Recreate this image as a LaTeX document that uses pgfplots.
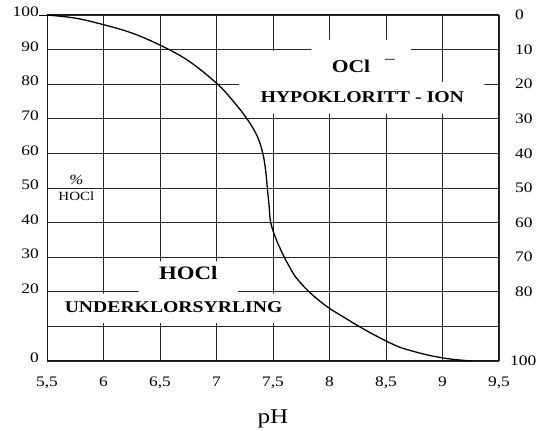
\documentclass[border=0pt]{standalone}
\usepackage{fontspec}
\setmainfont{Liberation Serif}[FakeStretch=1.2]
\usepackage{pgfplots}
\pgfplotsset{compat=1.18}
\begin{document}
\begin{tikzpicture}
\useasboundingbox (0,0) rectangle (539pt,431pt);
\begin{axis}[
  at={(47pt,70pt)}, anchor=south west,
  scale only axis, width=452pt, height=346pt,
  xmin=5.5, xmax=9.5, ymin=0, ymax=100,
  xtick={5.5,6,6.5,7,7.5,8,8.5,9,9.5},
  xticklabels={{5,5},6,{6,5},7,{7,5},8,{8,5},9,{9,5}},
  ytick={0,10,...,100},
  yticklabels={0,,20,30,40,50,60,70,80,90,100},
  extra y ticks={100},
  extra y tick labels={},
  extra y tick style={tick align=outside, tick pos=left, major tick length=8pt, major tick style={black, line width=0.8pt}},
  grid=major,
  major grid style={black!85, line width=0.9pt},
  major tick length=0pt,
  axis line style={black!90, line width=1pt},
  tick label style={font=\fontsize{14.5}{14.5}\selectfont, text=black},
  xticklabel style={anchor=north, inner sep=0pt, yshift=-16pt},
  yticklabel style={anchor=east, inner sep=0pt, xshift=-8pt, yshift=3pt},
  clip=false,
]
% white label areas hiding grid lines
\fill[white] (axis cs:7.2,71.5) -- (axis cs:9.37,71.5) -- (axis cs:9.37,80.6) -- (axis cs:8.72,80.6) -- (axis cs:8.72,92.8) -- (axis cs:7.84,92.8) -- (axis cs:7.84,89.7) -- (axis cs:7.47,89.7) -- (axis cs:7.47,80.6) -- (axis cs:7.2,80.6) -- cycle;
\fill[white] (axis cs:5.53,11) -- (axis cs:7.56,11) -- (axis cs:7.56,19.5) -- (axis cs:7.19,19.5) -- (axis cs:7.19,28.8) -- (axis cs:6.31,28.8) -- (axis cs:6.31,19.5) -- (axis cs:5.53,19.5) -- cycle;

\addplot[black, line width=1.3pt, smooth, tension=0.6] coordinates {
(5.5,100) (5.75,99.1) (6.0,97.2) (6.25,94.8) (6.5,91.3) (6.75,86.8) (7.0,80.3)
(7.14,75.4) (7.27,70) (7.36,65) (7.41,60) (7.435,55) (7.45,50) (7.465,45) (7.48,40)
(7.53,35) (7.6,30) (7.65,27) (7.7,24.3) (7.8,20.6) (7.9,17.7) (8.0,15.2) (8.12,12.8)
(8.24,10.4) (8.37,8) (8.5,5.8) (8.62,4.0) (8.73,2.9) (8.86,1.8) (9.0,0.9) (9.13,0.35) (9.26,0)
};

\node[font=\bfseries\fontsize{18}{18}\selectfont] at (axis cs:8.19,85.3) {OCl};
\node[font=\fontsize{16}{16}\selectfont, anchor=base] at (axis cs:8.535,86.1) {–};
\node[font=\bfseries\fontsize{16.5}{16.5}\selectfont] at (axis cs:8.29,76.3) {HYPOKLORITT - ION};
\node[font=\bfseries\fontsize{19}{19}\selectfont] at (axis cs:6.75,25.4) {HOCl};
\node[font=\bfseries\fontsize{16.4}{16.4}\selectfont] at (axis cs:6.62,15.6) {UNDERKLORSYRLING};
\node[font=\fontsize{14}{14}\selectfont] at (axis cs:5.76,52.3) {\textit{\%}};
\node[font=\fontsize{12.5}{12.5}\selectfont] at (axis cs:5.76,47.7) {HOCl};
\node[font=\fontsize{21}{21}\selectfont, inner sep=1pt] at (axis cs:7.5,0) [yshift=-58pt] {pH};
\end{axis}
\begin{axis}[
  at={(47pt,70pt)}, anchor=south west,
  scale only axis, width=452pt, height=346pt,
  xmin=5.5, xmax=9.5, ymin=0, ymax=100, y dir=reverse,
  axis x line=none, axis y line*=right,
  axis line style={draw=none},
  ytick={0,10,...,100},
  yticklabels={0,10,20,30,40,50,60,70,80,,\hspace*{-5pt}100},
  major tick length=0pt,
  tick label style={font=\fontsize{14.5}{14.5}\selectfont, text=black},
  yticklabel style={anchor=west, inner sep=0pt, xshift=16pt},
]
\addplot[draw=none] coordinates {(5.5,0)};
\end{axis}
\end{tikzpicture}
\end{document}
